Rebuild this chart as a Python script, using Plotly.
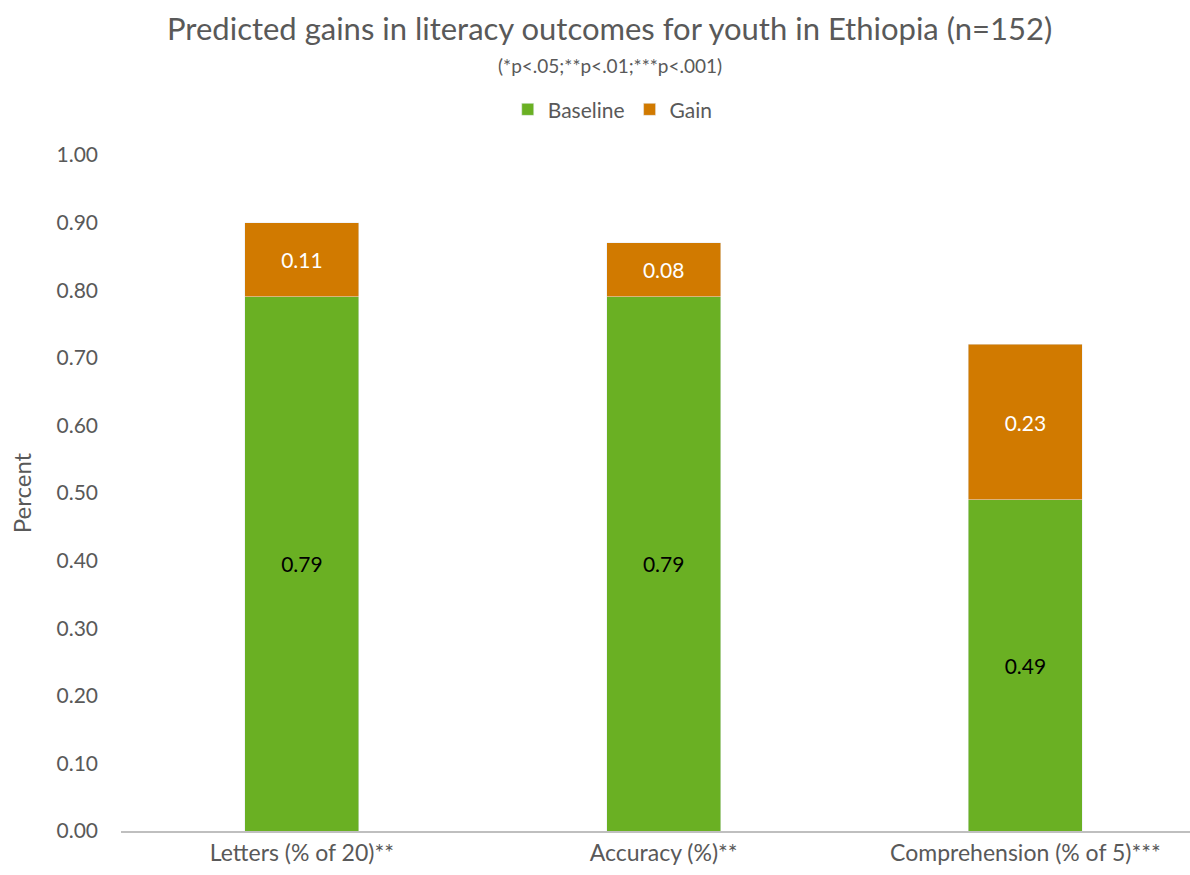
import plotly.graph_objects as go

categories = ["Letters (% of 20)**", "Accuracy (%)**", "Comprehension (% of 5)***"]
baseline = [0.79, 0.79, 0.49]
gain = [0.11, 0.08, 0.23]
ytick_vals = [0.0, 0.1, 0.2, 0.3, 0.4, 0.5, 0.6, 0.7, 0.8, 0.9, 1.0]

FONT = "Lato, 'Open Sans', sans-serif"
GREEN = "#6AB023"
ORANGE = "#D17A00"
GREY = "#595959"

fig = go.Figure()
fig.add_trace(go.Bar(
    x=categories, y=baseline, name="Baseline", marker_color=GREEN,
    text=[f"{v:.2f}" for v in baseline], textposition="inside",
    insidetextanchor="middle", textfont=dict(color="black", size=21, family=FONT),
))
fig.add_trace(go.Bar(
    x=categories, y=gain, name="Gain", marker_color=ORANGE,
    text=[f"{v:.2f}" for v in gain], textposition="inside",
    insidetextanchor="middle", textfont=dict(color="white", size=21, family=FONT),
))

fig.update_layout(
    barmode="stack",
    bargap=0.685,
    width=1190, height=875,
    paper_bgcolor="white", plot_bgcolor="white",
    font=dict(family=FONT, color=GREY, size=20),
    margin=dict(l=121, r=0, t=155, b=44),
    legend=dict(
        orientation="h", x=0.46, xanchor="center", y=1.067, yanchor="middle",
        font=dict(size=21, color=GREY), traceorder="normal",
        itemwidth=30,
    ),
    annotations=[
        dict(text="Predicted gains in literacy outcomes for youth in Ethiopia (n=152)",
             xref="paper", yref="paper", x=0.457, y=1.188, xanchor="center", yanchor="middle",
             showarrow=False, font=dict(size=31, color=GREY, family=FONT)),
        dict(text="(*p<.05;**p<.01;***p<.001)",
             xref="paper", yref="paper", x=0.457, y=1.133, xanchor="center", yanchor="middle",
             showarrow=False, font=dict(size=19, color=GREY, family=FONT)),
    ],
    uniformtext=dict(mode=False),
)
fig.update_yaxes(
    range=[0, 1.0], tickvals=ytick_vals, tickformat=".2f",
    showgrid=False, zeroline=False, showline=False,
    ticks="", ticklabelstandoff=22,
    tickfont=dict(size=21, color=GREY),
    title=dict(text="Percent", font=dict(size=24, color=GREY), standoff=18),
)
fig.update_xaxes(
    range=[-0.5, 2.455],
    showline=True, linecolor="#BFBFBF", linewidth=2,
    showgrid=False, ticks="",
    tickfont=dict(size=23, color=GREY),
)

fig.write_html("out.html")
